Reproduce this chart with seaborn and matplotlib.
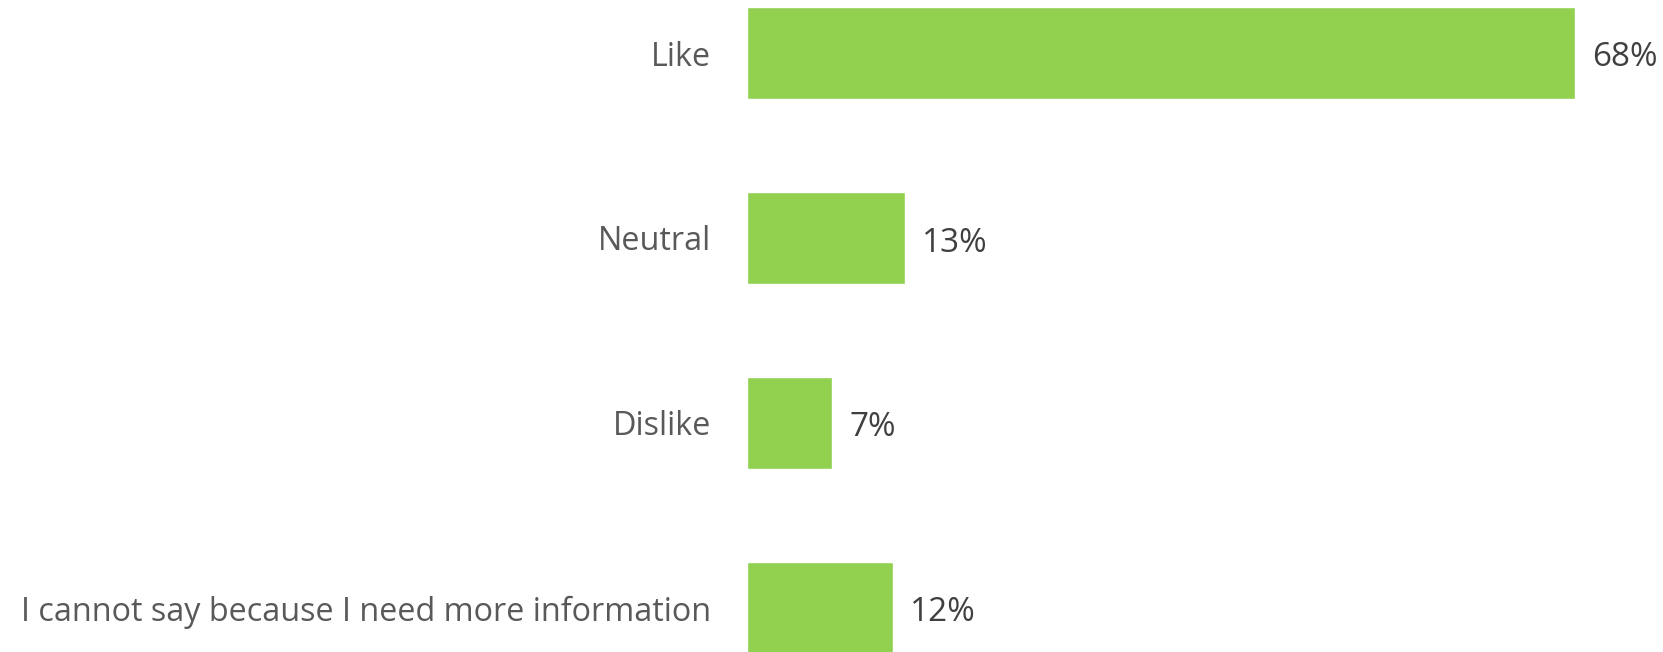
import matplotlib
matplotlib.use("Agg")
import matplotlib.pyplot as plt
import seaborn as sns
import pandas as pd

categories = ["Like", "Neutral", "Dislike", "I cannot say because I need more information"]
values = [68, 13, 7, 12]
value_labels = ["68%", "13%", "7%", "12%"]

sns.set_theme(style="white")
plt.rcParams['font.family'] = ['Open Sans', 'DejaVu Sans']

df = pd.DataFrame({"category": categories, "value": values})

fig = plt.figure(figsize=(16.63, 6.52), dpi=100)
ax = fig.add_axes([747/1663, 0, 1 - 747/1663, 1])
sns.barplot(data=df, x="value", y="category", orient="h", color="#92D050",
            saturation=1, width=0.497, ax=ax)

ax.set_xlim(0, (1663 - 747) / 12.18)
ax.set_ylim(3 + 44/185, -53/185)
ax.set_xlabel("")
ax.set_ylabel("")
ax.set_xticks([])
ax.tick_params(axis="y", length=0, pad=26, labelsize=23.3, labelcolor="#595959")
for s in ax.spines.values():
    s.set_visible(False)

for i, (v, lab) in enumerate(zip(values, value_labels)):
    ax.annotate(lab, xy=(v, i), xytext=(17, -5), textcoords="offset pixels",
                va="center", ha="left", fontsize=24, color="#404040")

fig.savefig("out.png", dpi=100)
